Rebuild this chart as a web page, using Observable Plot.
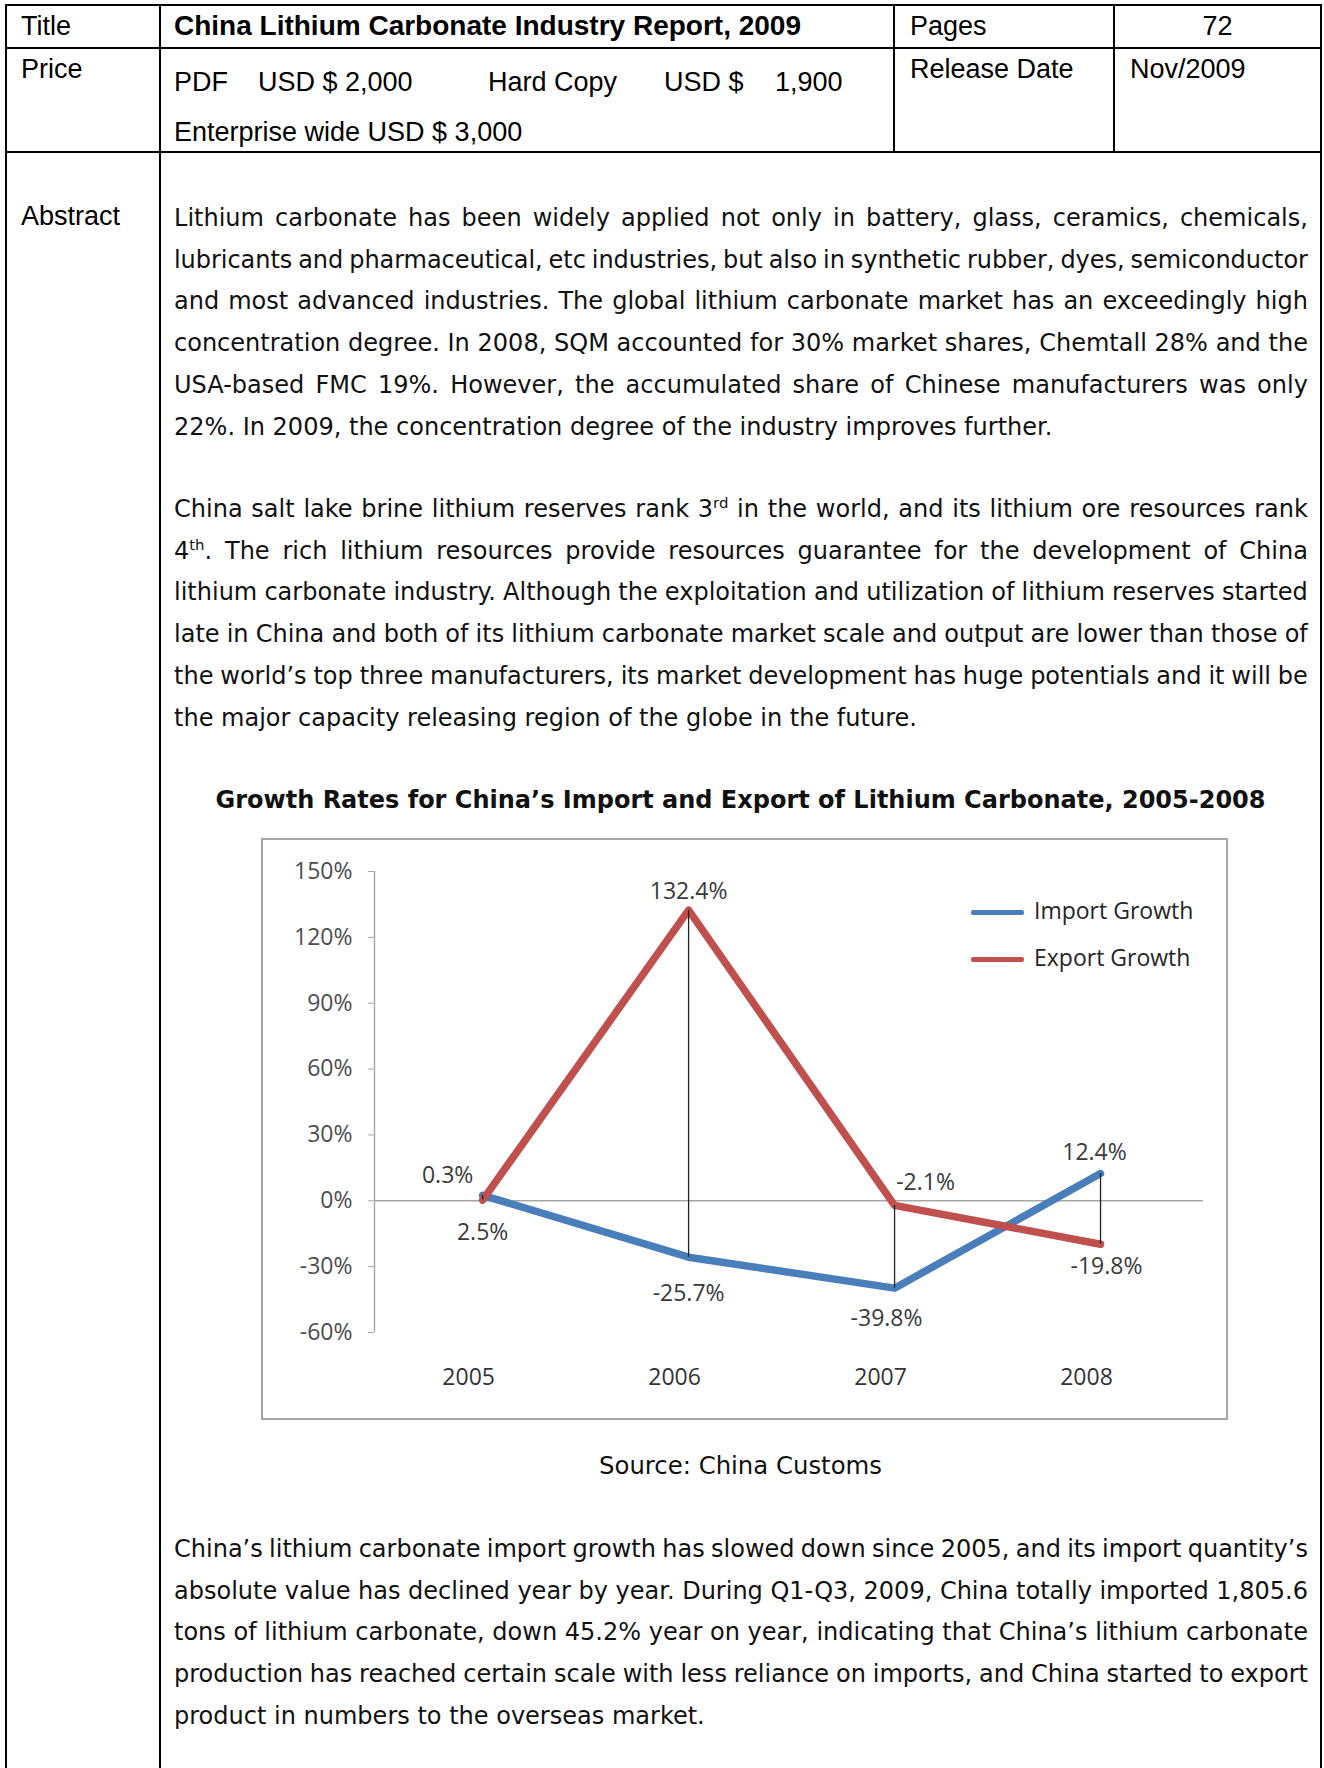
<!DOCTYPE html>
<html>
<head>
<meta charset="utf-8">
<script src="https://cdn.jsdelivr.net/npm/d3@7"></script>
<script src="https://cdn.jsdelivr.net/npm/@observablehq/plot@0.6"></script>
<style>
  html, body { margin: 0; padding: 0; background: #fff; }
  body { position: relative; width: 1324px; height: 1768px; overflow: hidden; color: #000; }
  .rule { position: absolute; background: #000; }
  .hd { position: absolute; font-family: "Liberation Sans", Arial, sans-serif; font-size: 27px; line-height: 30px; height: 30px; white-space: nowrap; }
  .hd.b { font-weight: bold; font-size: 28px; }
  .line { position: absolute; left: 174px; width: 1134px; height: 42px; line-height: 42px; font-family: "DejaVu Sans", sans-serif; white-space: nowrap; color: #111; }
  .line sup { font-size: 0.62em; line-height: 0; vertical-align: 0.6em; }
  .ctitle { position: absolute; left: 160px; width: 1161px; text-align: center; font-family: "DejaVu Sans", sans-serif; font-weight: bold; height: 40px; line-height: 40px; white-space: nowrap; color: #111; }
  .source { position: absolute; left: 160px; width: 1161px; text-align: center; font-family: "DejaVu Sans", sans-serif; height: 40px; line-height: 40px; color: #111; }
  #chartwrap { position: absolute; left: 261px; top: 838px; width: 963px; height: 578px; border: 2px solid #a3a6a3; background: #fff; }
  #chart svg { display: block; }
  .leg { position: absolute; font-family: "Open Sans", sans-serif; font-size: 23px; color: #262626; white-space: nowrap; }
  .leg .sw { position: absolute; left: 0; width: 53px; height: 5px; border-radius: 2px; }
  .leg .lt { position: absolute; left: 63px; top: -16px; line-height: 32px; }
</style>
</head>
<body>
<div id="page"></div>
<script>
// ---------- chart data ----------
const years = [2005, 2006, 2007, 2008];
const importGrowth = [2.5, -25.7, -39.8, 12.4];
const exportGrowth = [0.3, 132.4, -2.1, -19.8];
const seriesNames = ["Import Growth", "Export Growth"];
const yTicks = [-60, -30, 0, 30, 60, 90, 120, 150];

const chartTitle = "Growth Rates for China’s Import and Export of Lithium Carbonate, 2005-2008";
const sourceText = "Source: China Customs";

// ---------- styles ----------
const seriesColors = ["#4a7ebb", "#c0504d"];
// label offsets relative to each data point: [seriesIndex, yearIndex, dx, dy]
const labelLayout = [
  [1, 0, -35, -25], [0, 0, 0, 37],
  [1, 1, 0, -19],   [0, 1, 0, 36],
  [1, 2, 31, -23],  [0, 2, -8, 30],
  [0, 3, -6, -21],  [1, 3, 6, 22]
];

// ---------- page text ----------
const para1 = [
  "Lithium carbonate has been widely applied not only in battery, glass, ceramics, chemicals,",
  "lubricants and pharmaceutical, etc industries, but also in synthetic rubber, dyes, semiconductor",
  "and most advanced industries. The global lithium carbonate market has an exceedingly high",
  "concentration degree. In 2008, SQM accounted for 30% market shares, Chemtall 28% and the",
  "USA-based FMC 19%. However, the accumulated share of Chinese manufacturers was only",
  "22%. In 2009, the concentration degree of the industry improves further."
];
const para2 = [
  "China salt lake brine lithium reserves rank 3<sup>rd</sup> in the world, and its lithium ore resources rank",
  "4<sup>th</sup>. The rich lithium resources provide resources guarantee for the development of China",
  "lithium carbonate industry. Although the exploitation and utilization of lithium reserves started",
  "late in China and both of its lithium carbonate market scale and output are lower than those of",
  "the world’s top three manufacturers, its market development has huge potentials and it will be",
  "the major capacity releasing region of the globe in the future."
];
const para3 = [
  "China’s lithium carbonate import growth has slowed down since 2005, and its import quantity’s",
  "absolute value has declined year by year. During Q1-Q3, 2009, China totally imported 1,805.6",
  "tons of lithium carbonate, down 45.2% year on year, indicating that China’s lithium carbonate",
  "production has reached certain scale with less reliance on imports, and China started to export",
  "product in numbers to the overseas market."
];

const page = document.getElementById("page");
function el(tag, cls, style, html) {
  const e = document.createElement(tag);
  if (cls) e.className = cls;
  Object.assign(e.style, style || {});
  if (html != null) e.innerHTML = html;
  page.appendChild(e);
  return e;
}

// table rules
[[5, 4, 1317, 2], [5, 47, 1317, 2], [5, 151, 1317, 2]].forEach(([l, t, w, h]) =>
  el("div", "rule", {left: l + "px", top: t + "px", width: w + "px", height: h + "px"}));
[[5, 4, 1764], [159, 4, 1764], [893, 4, 149], [1113, 4, 149], [1320, 4, 1764]].forEach(([l, t, h]) =>
  el("div", "rule", {left: l + "px", top: t + "px", width: "2px", height: h + "px"}));

// header texts
el("div", "hd", {left: "21px", top: "11px"}, "Title");
el("div", "hd b", {left: "174px", top: "11px"}, "China Lithium Carbonate Industry Report, 2009");
el("div", "hd", {left: "910px", top: "11px"}, "Pages");
el("div", "hd", {left: "1114px", top: "11px", width: "207px", textAlign: "center"}, "72");
el("div", "hd", {left: "21px", top: "54px"}, "Price");
el("div", "hd", {left: "174px", top: "67px"}, "PDF");
el("div", "hd", {left: "258px", top: "67px"}, "USD $ 2,000");
el("div", "hd", {left: "488px", top: "67px"}, "Hard Copy");
el("div", "hd", {left: "664px", top: "67px"}, "USD $");
el("div", "hd", {left: "775px", top: "67px"}, "1,900");
el("div", "hd", {left: "174px", top: "117px"}, "Enterprise wide USD $ 3,000");
el("div", "hd", {left: "910px", top: "54px"}, "Release Date");
el("div", "hd", {left: "1130px", top: "54px"}, "Nov/2009");
el("div", "hd", {left: "21px", top: "201px"}, "Abstract");

// ---------- text measurement helpers ----------
const probe = el("span", "", {position: "absolute", left: "-5000px", top: "0", whiteSpace: "nowrap", fontFamily: "DejaVu Sans"});
function measure(html, fs, weight) {
  probe.style.fontSize = fs + "px";
  probe.style.fontWeight = weight || "normal";
  probe.innerHTML = html;
  return probe.getBoundingClientRect().width;
}
// size the body font so that the paragraph endings have the reference's length
const lastLines = [para1[para1.length - 1], para2[para2.length - 1], para3[para3.length - 1]];
const lastTargets = [887, 741, 526];
const w20 = lastLines.reduce((a, s) => a + measure(s, 20), 0);
const bodyFs = 20 * lastTargets.reduce((a, b) => a + b, 0) / w20;
const titleFs = 20 * 1050 / measure(chartTitle, 20, "bold");
const sourceFs = 20 * 283 / measure(sourceText, 20);

function paragraph(lines, top0) {
  lines.forEach((s, i) => {
    const last = i === lines.length - 1;
    const d = el("div", "line", {top: (top0 + i * 41.7) + "px", fontSize: bodyFs + "px"});
    if (last) { d.innerHTML = s; return; }
    const words = s.split(" ");
    const wordsW = measure(words.join(""), bodyFs);
    const minGap = 6;
    const avail = 1134 - (words.length - 1) * minGap;
    if (wordsW > avail) {
      const nChars = words.join("").replace(/<[^>]+>/g, "").length;
      d.style.letterSpacing = (-(wordsW - avail) / nChars) + "px";
    }
    d.style.display = "flex";
    d.style.justifyContent = "space-between";
    words.forEach(w => { const sp = document.createElement("span"); sp.innerHTML = w; d.appendChild(sp); });
  });
}
paragraph(para1, 197);
paragraph(para2, 488);
paragraph(para3, 1528);
probe.remove();

el("div", "ctitle", {top: "780px", fontSize: titleFs + "px"}, chartTitle);
el("div", "source", {top: "1446px", fontSize: sourceFs + "px"}, sourceText);

// ---------- chart ----------
const wrap = el("div", "", {});
wrap.id = "chartwrap";
const chartDiv = document.createElement("div");
chartDiv.id = "chart";
wrap.appendChild(chartDiv);

const rows = [];
seriesNames.forEach((name, s) => {
  const vals = s === 0 ? importGrowth : exportGrowth;
  years.forEach((yr, i) => rows.push({year: yr, series: name, value: vals[i]}));
});
const hilo = years.map((yr, i) => ({year: yr, lo: Math.min(importGrowth[i], exportGrowth[i]), hi: Math.max(importGrowth[i], exportGrowth[i])}));
const xDom = [years[0] - 0.525, years[years.length - 1] + 0.5];

const labelMarks = labelLayout.map(([s, i, dx, dy]) => {
  const vals = s === 0 ? importGrowth : exportGrowth;
  return Plot.text([{year: years[i], value: vals[i]}], {
    x: "year", y: "value", text: d => `${d.value}%`, dx, dy,
    fontSize: 23, fill: "#3a3a3a", textAnchor: "middle", lineAnchor: "middle"
  });
});

const chart = Plot.plot({
  width: 963, height: 578,
  marginLeft: 111, marginRight: 23, marginTop: 31, marginBottom: 86,
  x: {type: "linear", domain: xDom, axis: null},
  y: {domain: [yTicks[0], yTicks[yTicks.length - 1]], axis: null},
  color: {domain: seriesNames, range: seriesColors},
  style: {fontFamily: "Open Sans, sans-serif", background: "#fff", overflow: "visible"},
  marks: [
    Plot.ruleY([0], {stroke: "#a6a6a6", strokeWidth: 1.4}),
    Plot.ruleX([xDom[0]], {y1: yTicks[0], y2: yTicks[yTicks.length - 1], stroke: "#a6a6a6", strokeWidth: 1.4}),
    Plot.axisY({ticks: yTicks, tickFormat: d => `${d}%`, tickSize: 6, tickPadding: 16, fontSize: 23,
      stroke: "#a6a6a6", fill: "#4d4d4d", label: null}),
    Plot.axisX({ticks: years, tickFormat: d => String(d), tickSize: 0, tickPadding: 36, dx: -14, fontSize: 23,
      fill: "#333", label: null}),
    Plot.line(rows, {x: "year", y: "value", z: "series", stroke: "series", strokeWidth: 7.5,
      strokeLinejoin: "round", strokeLinecap: "round"}),
    Plot.ruleX(hilo, {x: "year", y1: "lo", y2: "hi", stroke: "#222", strokeWidth: 1.3}),
    ...labelMarks
  ]
});
chartDiv.appendChild(chart);

// legend (HTML overlay inside the chart frame)
seriesNames.forEach((name, s) => {
  const g = document.createElement("div");
  g.className = "leg";
  Object.assign(g.style, {left: "708px", top: (70 + s * 47) + "px"});
  g.innerHTML = `<div class="sw" style="background:${seriesColors[s]}"></div><div class="lt">${name}</div>`;
  wrap.appendChild(g);
});
</script>
</body>
</html>
